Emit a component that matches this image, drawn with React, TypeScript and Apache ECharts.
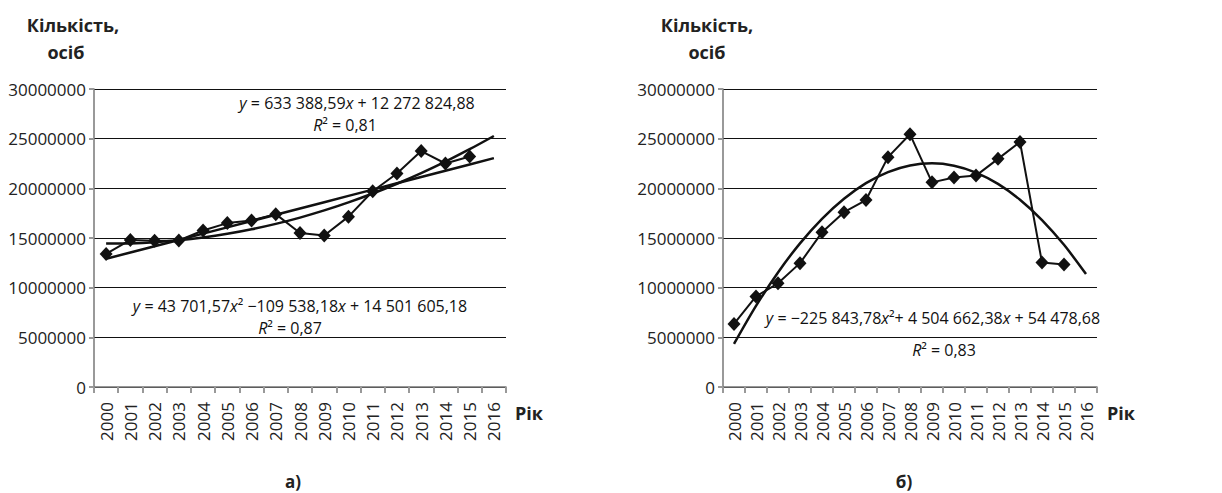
import React, { useEffect, useRef } from "react";
import * as echarts from "echarts";

const years = ["2000","2001","2002","2003","2004","2005","2006","2007","2008","2009","2010","2011","2012","2013","2014","2015","2016"];
const seriesA = [13400000,14800000,14730000,14750000,15750000,16500000,16760000,17400000,15500000,15250000,17150000,19700000,21500000,23750000,22500000,23200000];
const seriesB = [6350000,9120000,10440000,12470000,15570000,17600000,18820000,23140000,25440000,20600000,21100000,21280000,22970000,24660000,12530000,12330000];
const linearA = [0, 633388.59, 12272824.88];
const quadA = [43701.57, -109538.18, 14501605.18];
const quadB = [-225843.78, 4504662.38, 54478.68];
const yTicks = [0, 5000000, 10000000, 15000000, 20000000, 25000000, 30000000];

const FONT = "'Open Sans', 'Noto Sans', sans-serif";

function trend(c: number[]) {
  return years.map((_, i) => {
    const x = i + 1;
    return c[0] * x * x + c[1] * x + c[2];
  });
}

export default function App() {
  const ref = useRef<HTMLDivElement>(null);
  useEffect(() => {
    document.body.style.margin = "0";
    const chart = echarts.init(ref.current!, null, { renderer: "svg" });
    const xAxisBase = (gridIndex: number) => ({
      type: "category",
      gridIndex,
      data: years,
      boundaryGap: true,
      axisLine: { show: true, lineStyle: { color: "#777", width: 1.5 } },
      axisTick: { show: true, interval: 0, length: 6, lineStyle: { color: "#999", width: 2 } },
      axisLabel: { interval: 0, rotate: 90, margin: 15, fontSize: 17, color: "#222", fontFamily: FONT },
      splitLine: { show: false },
    });
    const yAxisBase = (gridIndex: number) => ({
      type: "value",
      gridIndex,
      min: yTicks[0],
      max: yTicks[yTicks.length - 1],
      interval: yTicks[1] - yTicks[0],
      axisLine: { show: true, lineStyle: { color: "#777", width: 1.5 } },
      axisTick: { show: true, length: 5, lineStyle: { color: "#999", width: 2 } },
      axisLabel: { fontSize: 17, color: "#222", margin: 8, fontFamily: FONT, formatter: (v: number) => String(v) },
      splitLine: { show: true, lineStyle: { color: "#111", width: 1.2 } },
    });
    const dataSeries = (idx: number, data: number[]) => ({
      type: "line",
      xAxisIndex: idx,
      yAxisIndex: idx,
      data,
      symbol: "diamond",
      symbolSize: [13, 14],
      itemStyle: { color: "#111" },
      lineStyle: { color: "#111", width: 2 },
      z: 3,
    });
    const trendSeries = (idx: number, data: number[], smooth: boolean) => ({
      type: "line",
      xAxisIndex: idx,
      yAxisIndex: idx,
      data,
      symbol: "none",
      smooth: smooth ? 0.3 : false,
      lineStyle: { color: "#111", width: 2.5 },
      z: 2,
    });
    const rich = {
      i: { fontStyle: "italic", fontSize: 16, fontFamily: FONT, fill: "#111" },
    };
    const eq = (x: number, y: number, text: string) => ({
      type: "text",
      x,
      y,
      style: {
        text,
        fontSize: 16,
        fontFamily: FONT,
        fill: "#111",
        align: "center",
        verticalAlign: "middle",
        rich,
      },
    });
    const bold = (x: number, y: number, text: string, size = 18) => ({
      type: "text",
      x,
      y,
      style: {
        text,
        fontSize: size,
        fontWeight: "bold",
        fontFamily: FONT,
        fill: "#222",
        align: "center",
        verticalAlign: "middle",
      },
    });
    chart.setOption({
      animation: false,
      grid: [
        { left: 94, top: 89, width: 412, height: 298 },
        { left: 723, top: 89, width: 374, height: 298 },
      ],
      xAxis: [xAxisBase(0), xAxisBase(1)],
      yAxis: [yAxisBase(0), yAxisBase(1)],
      series: [
        dataSeries(0, seriesA),
        trendSeries(0, trend(linearA), false),
        trendSeries(0, trend(quadA), true),
        dataSeries(1, seriesB),
        trendSeries(1, trend(quadB), true),
      ],
      graphic: [
        bold(73, 25, "Кількість,"),
        bold(66, 52, "осіб"),
        bold(707, 25, "Кількість,"),
        bold(707, 52, "осіб"),
        bold(529, 413, "Рік"),
        bold(1121, 413, "Рік"),
        bold(293, 481, "а)", 17),
        bold(904, 481, "б)", 17),
        eq(357, 103, "{i|y} = 633 388,59{i|x} + 12 272 824,88"),
        eq(345, 125, "{i|R}² = 0,81"),
        eq(300, 306, "{i|y} = 43 701,57{i|x}² −109 538,18{i|x} + 14 501 605,18"),
        eq(290, 328, "{i|R}² = 0,87"),
        eq(933, 318, "{i|y} = −225 843,78{i|x}²+ 4 504 662,38{i|x} + 54 478,68"),
        eq(944, 350, "{i|R}² = 0,83"),
      ],
    });
    return () => chart.dispose();
  }, []);
  return <div ref={ref} style={{ width: 1222, height: 493 }} />;
}
